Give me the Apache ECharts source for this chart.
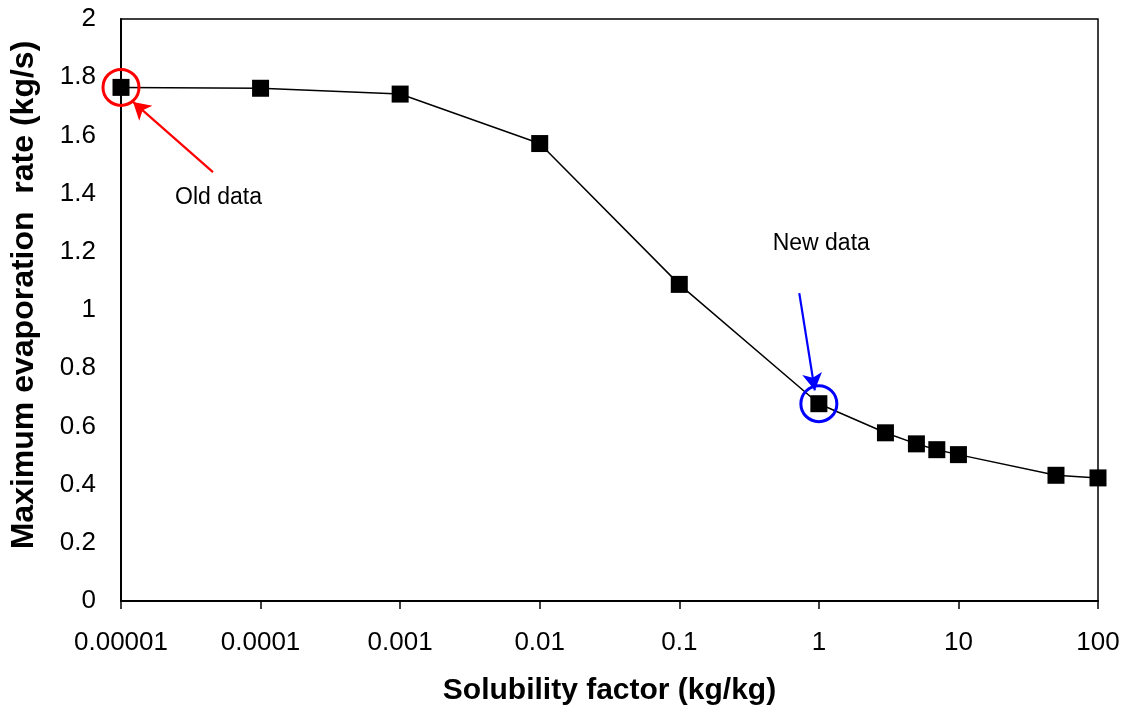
<!DOCTYPE html>
<html>
<head>
<meta charset="utf-8">
<script src="https://cdn.jsdelivr.net/npm/echarts@6/dist/echarts.min.js"></script>
<style>
html,body{margin:0;padding:0;background:#fff;}
#chart{width:1132px;height:716px;}
</style>
</head>
<body>
<div id="chart"></div>
<script>
// Data
const solubility = [0.00001, 0.0001, 0.001, 0.01, 0.1, 1, 3, 5, 7, 10, 50, 100];
const evapRate   = [1.765, 1.762, 1.742, 1.572, 1.088, 0.678, 0.578, 0.540, 0.520, 0.503, 0.432, 0.423];
const xTickLabels = {'-5':'0.00001','-4':'0.0001','-3':'0.001','-2':'0.01','-1':'0.1','0':'1','1':'10','2':'100'};
const xTitle = 'Solubility factor (kg/kg)';
const yTitle = 'Maximum evaporation  rate (kg/s)';
// Annotations (data coordinates)
const oldPoint = [0.00001, 1.765];
const oldArrow = [[4.56e-5, 1.474], [1.22e-5, 1.715]];
const oldLabel = {text: 'Old data', at: [5.0e-5, 1.385]};
const newPoint = [1, 0.678];
const newArrow = [[0.724, 1.058], [0.935, 0.724]];
const newLabel = {text: 'New data', at: [1.04, 1.227]};

const font = '"Liberation Sans", Arial, sans-serif';
const chart = echarts.init(document.getElementById('chart'), null, {renderer: 'canvas'});

const circleItem = (pt, color) => ({
  coord: pt, symbol: 'circle', symbolSize: 36,
  itemStyle: {color: 'rgba(0,0,0,0)', borderColor: color, borderWidth: 3},
  label: {show: false}
});
const textItem = (lbl) => ({
  coord: lbl.at, symbol: 'circle', symbolSize: 0,
  itemStyle: {color: 'rgba(0,0,0,0)'},
  label: {show: true, position: 'inside', formatter: lbl.text, color: '#000',
          fontSize: 23, fontFamily: font}
});
const arrowLine = (a, color) => ([
  {coord: a[0], lineStyle: {color: color, width: 2.2, type: 'solid'}},
  {coord: a[1]}
]);

chart.setOption({
  animation: false,
  backgroundColor: '#fff',
  grid: {left: 121, right: 34, top: 19, bottom: 115, show: true,
         borderColor: '#000', borderWidth: 1.5, backgroundColor: 'transparent'},
  xAxis: {
    type: 'log', logBase: 10, min: 0.00001, max: 100,
    name: xTitle, nameLocation: 'middle', nameGap: 75,
    nameTextStyle: {fontSize: 30, fontWeight: 'bold', fontFamily: font, color: '#000'},
    axisLine: {show: true, lineStyle: {color: '#000', width: 2}},
    axisTick: {show: true, inside: false, length: 8, lineStyle: {color: '#000', width: 1.5}},
    axisLabel: {
      margin: 29, fontSize: 26, fontFamily: font, color: '#000',
      formatter: v => { const k = Math.round(Math.log10(v)); return xTickLabels[String(k)] ?? ''; }
    },
    splitLine: {show: false},
    minorTick: {show: false}
  },
  yAxis: {
    type: 'value', min: 0, max: 2, interval: 0.2,
    name: yTitle, nameLocation: 'middle', nameGap: 81, nameRotate: 90,
    nameTextStyle: {fontSize: 32, fontWeight: 'bold', fontFamily: font, color: '#000',
                    padding: [0, 0, 0, 30]},
    axisLine: {show: true, lineStyle: {color: '#000', width: 2}},
    axisTick: {show: false},
    axisLabel: {
      margin: 25, fontSize: 26, fontFamily: font, color: '#000',
      formatter: v => String(parseFloat(v.toFixed(1)))
    },
    splitLine: {show: false}
  },
  series: [{
    type: 'line',
    data: solubility.map((x, i) => [x, evapRate[i]]),
    symbol: 'rect', symbolSize: 17,
    itemStyle: {color: '#000'},
    lineStyle: {color: '#000', width: 1.5},
    emphasis: {disabled: true},
    markPoint: {
      silent: true, animation: false,
      data: [circleItem(oldPoint, '#ff0000'), circleItem(newPoint, '#0000ff'),
             textItem(oldLabel), textItem(newLabel)]
    },
    markLine: {
      silent: true, animation: false,
      symbol: ['none', 'arrow'], symbolSize: [15, 17],
      label: {show: false},
      emphasis: {disabled: true},
      data: [arrowLine(oldArrow, '#ff0000'), arrowLine(newArrow, '#0000ff')]
    }
  }]
});
</script>
</body>
</html>
